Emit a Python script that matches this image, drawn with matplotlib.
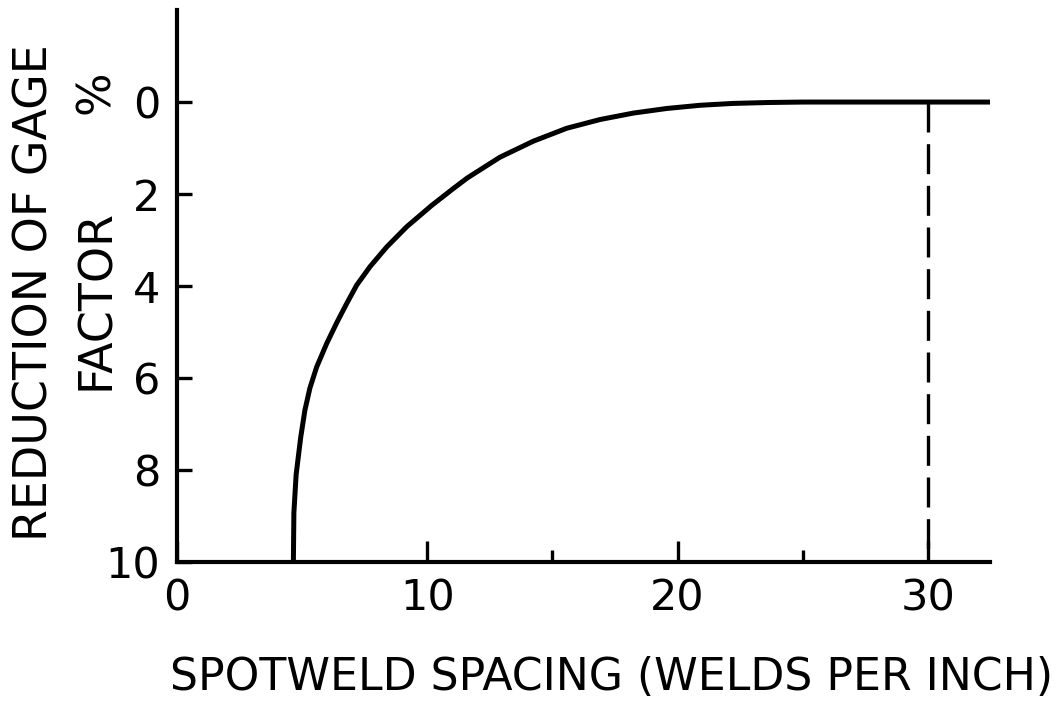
import numpy as np
import matplotlib
matplotlib.use("Agg")
import matplotlib.pyplot as plt

# reduction of gage factor (%) against spotweld spacing (welds per inch)
spacing = [4.65, 4.67, 4.76, 4.94, 5.11, 5.31, 5.58, 5.98, 6.38, 6.78, 7.18,
           7.71, 8.38, 9.18, 10.17, 11.04, 11.6, 12.9, 14.24, 15.57, 16.9,
           18.23, 19.56, 20.9, 22.2, 23.6, 25.0, 32.5]
reduction = [10.0, 8.93, 8.1, 7.3, 6.7, 6.22, 5.76, 5.25, 4.8, 4.38, 3.98,
             3.58, 3.15, 2.71, 2.25, 1.88, 1.65, 1.2, 0.85, 0.57, 0.38,
             0.24, 0.14, 0.07, 0.03, 0.01, 0.0, 0.0]

ref_spacing = 30
x_major = [0, 10, 20, 30]
x_minor = [15, 25]
y_ticks = [0, 2, 4, 6, 8, 10]

plt.rcParams['font.family'] = ['DejaVu Sans']

fig = plt.figure(figsize=(10.63, 7.04), dpi=100)
ax = fig.add_axes([0.1665, 0.2017, 0.7648, 0.784])

ax.plot(spacing, reduction, color='black', lw=3.6,
        solid_joinstyle='round', solid_capstyle='butt')
ax.plot([ref_spacing, ref_spacing], [0, 10], color='black', lw=2.4,
        dashes=(9, 3.5))

ax.set_xlim(0, 32.48)
ax.set_ylim(10, -2.0)

for side in ['top', 'right']:
    ax.spines[side].set_visible(False)
for side in ['left', 'bottom']:
    ax.spines[side].set_linewidth(3.0)

ax.set_xticks(x_major)
ax.set_xticks(x_minor, minor=True)
ax.set_yticks(y_ticks)
ax.tick_params(axis='x', which='major', direction='in', length=15, width=2.4,
               labelsize=31, pad=11)
ax.tick_params(axis='x', which='minor', direction='in', length=9, width=2.4)
ax.tick_params(axis='y', direction='in', length=11, width=2.4,
               labelsize=31, pad=12)

# two-line y label, the percent sign sits apart at the top of the second line
fig.text(0.033, 0.585, 'REDUCTION OF GAGE', rotation=90, fontsize=33,
         ha='center', va='center')
fig.text(0.091, 0.574, 'FACTOR', rotation=90, fontsize=33,
         ha='center', va='center')
fig.text(0.091, 0.869, '%', rotation=90, fontsize=33,
         ha='center', va='center')
fig.text(0.575, 0.037, 'SPOTWELD SPACING (WELDS PER INCH)', fontsize=31.8,
         ha='center', va='center')

fig.savefig('out.png', dpi=100)
